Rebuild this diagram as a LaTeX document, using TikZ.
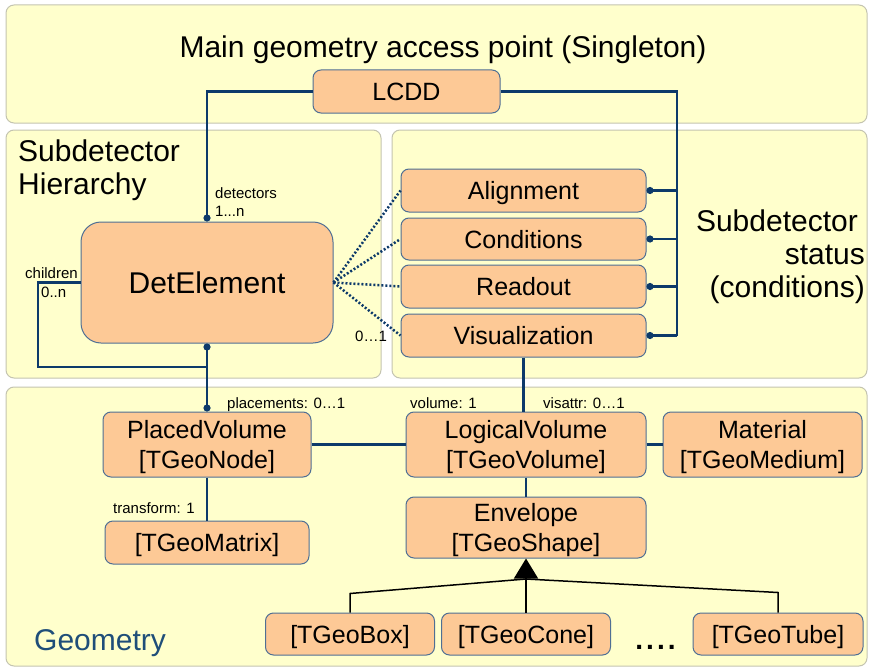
\documentclass[tikz,border=0pt]{standalone}
\usepackage{fontspec}
\setmainfont{Liberation Sans}
\usetikzlibrary{arrows.meta}
\definecolor{panelfill}{HTML}{FFFFCC}
\definecolor{panelline}{HTML}{C4C4B0}
\definecolor{boxfill}{HTML}{FDC996}
\definecolor{boxline}{HTML}{4F6F94}
\definecolor{navy}{HTML}{0D3A6A}
\definecolor{geotext}{HTML}{1F4E79}
\tikzstyle{panel} = [draw=panelline, fill=panelfill, rounded corners=8pt, line width=1pt]
\tikzstyle{cls} = [draw=boxline, fill=boxfill, rounded corners=8pt, line width=1pt, inner sep=0pt, text depth=0pt, align=center, font=\fontsize{25}{30}\selectfont]
\tikzstyle{caption} = [inner sep=0pt, font=\fontsize{30}{33}\selectfont]
\tikzstyle{card} = [inner sep=0pt, anchor=base west, align=left, font=\fontsize{15}{18}\selectfont]
\tikzstyle{link} = [draw=navy, line width=2.5pt]
\tikzstyle{dot} = [-{Circle[length=7pt]}]
\tikzstyle{optional} = [draw=navy, line width=2.5pt, dash pattern=on 2pt off 2pt]
\tikzstyle{inherit} = [draw=black, line width=1.5pt]

\begin{document}
\begin{tikzpicture}[x=1pt, y=-1pt]
				\useasboundingbox (0,0) rectangle (870,669);
				% background panels
				\draw[panel] (6,5) rectangle (867,123);
				\draw[panel] (6,130) rectangle (381,378);
				\draw[panel] (392,130) rectangle (867,378);
				\draw[panel] (6,387) rectangle (867,666);
				
				\node (maintitle)[caption, anchor=base] at (443,58) {Main geometry access point (Singleton)};
				\node (hiertitle)[caption, anchor=north west, align=left] at (18,140) {Subdetector\\Hierarchy};
				\node (statustitle)[caption, anchor=north east, align=right] at (865,210) {Subdetector\hspace*{7pt}\\status\\(conditions)};
				\node (geotitle)[caption, anchor=base west, text=geotext] at (34,650) {Geometry};
				
				% classes
				\node (lcdd)[cls, minimum width=187pt, minimum height=43pt] at (406.5,91.5) {LCDD};
				\node (detel)[cls, minimum width=252pt, minimum height=121pt, rounded corners=20pt, font=\fontsize{30}{33}\selectfont] at (207,282.5) {DetElement};
				\node (align)[cls, minimum width=245pt, minimum height=43pt] at (523.5,190.5) {Alignment};
				\node (cond)[cls, minimum width=245pt, minimum height=42pt] at (523.5,239) {Conditions};
				\node (readout)[cls, minimum width=245pt, minimum height=43pt] at (523.5,286.5) {Readout};
				\node (vis)[cls, minimum width=245pt, minimum height=43pt] at (523.5,335.5) {Visualization};
				\node (placed)[cls, minimum width=208pt, minimum height=65pt] at (207,444.5) {PlacedVolume\\{}[TGeoNode]};
				\node (matrix)[cls, minimum width=204pt, minimum height=43pt] at (207,542.5) {[TGeoMatrix]};
				\node (logical)[cls, minimum width=240pt, minimum height=65pt] at (526,444.5) {LogicalVolume\\{}[TGeoVolume]};
				\node (material)[cls, minimum width=199pt, minimum height=65pt] at (762.5,444.5) {Material\\{}[TGeoMedium]};
				\node (envelope)[cls, minimum width=240pt, minimum height=61pt] at (526,527.5) {Envelope\\{}[TGeoShape]};
				\node (box)[cls, minimum width=169pt, minimum height=42pt] at (350,634) {[TGeoBox]};
				\node (cone)[cls, minimum width=169pt, minimum height=42pt] at (526,634) {[TGeoCone]};
				\node (tube)[cls, minimum width=170pt, minimum height=42pt] at (778,634) {[TGeoTube]};
				\node (more)[anchor=base, inner sep=0pt, font=\fontsize{28}{30}\selectfont\bfseries] at (655.5,649) {.\kern3pt.\kern3pt.\kern3pt.};
				
				% multiplicities
				\node (ldet)[card] at (215,216) {detectors\\1...n};
				\node (lchild)[card] at (25,278) {children};
				\node (lchildn)[card] at (41,297) {0..n};
				\node (lopt)[card] at (355,341) {0\ldots1};
				\node (lplace)[card] at (227,408) {placements: 0\ldots1};
				\node (lvol)[card] at (410,408) {volume: 1};
				\node (lvis)[card] at (543,408) {visattr: 0\ldots1};
				\node (ltrans)[card] at (113,513) {transform: 1};
				
				% connectors
				\coordinate (rail) at (677,335.5);
				\coordinate (loop) at (38,367);
				\coordinate (hub) at (526,579);
				\draw[link, dot] (lcdd.west) -| (detel.north);
				\draw[link] (lcdd.east) -| (rail);
				\draw[link, dot] (align.east -| rail) -- (align.east);
				\draw[link, dot] (cond.east -| rail) -- (cond.east);
				\draw[link, dot] (readout.east -| rail) -- (readout.east);
				\draw[link, dot] (vis.east -| rail) -- (vis.east);
				\draw[link] (detel.west) -| (loop) -- (loop -| detel.south);
				\draw[link, {Circle[length=7pt]}-{Circle[length=7pt]}] (detel.south) -- (placed.north);
				\draw[optional] (detel.east) -- (align.west);
				\draw[optional] (detel.east) -- (cond.west);
				\draw[optional] (detel.east) -- (readout.west);
				\draw[optional] (detel.east) -- (vis.west);
				\draw[link] (placed.east) -- (logical.west);
				\draw[link] (logical.east) -- (material.west);
				\draw[link] (vis.south) -- (vis.south |- logical.north);
				\draw[link] (placed.south) -- (matrix.north);
				\draw[link] (logical.south) -- (envelope.north);
				\draw[inherit, -{Triangle[length=20pt, width=24pt]}] (cone.north) -- (envelope.south);
				\draw[inherit] (box.north) -- ++(0,-19) -- (hub);
				\draw[inherit] (tube.north) -- ++(0,-20) -- (hub);
			\end{tikzpicture}
\end{document}
